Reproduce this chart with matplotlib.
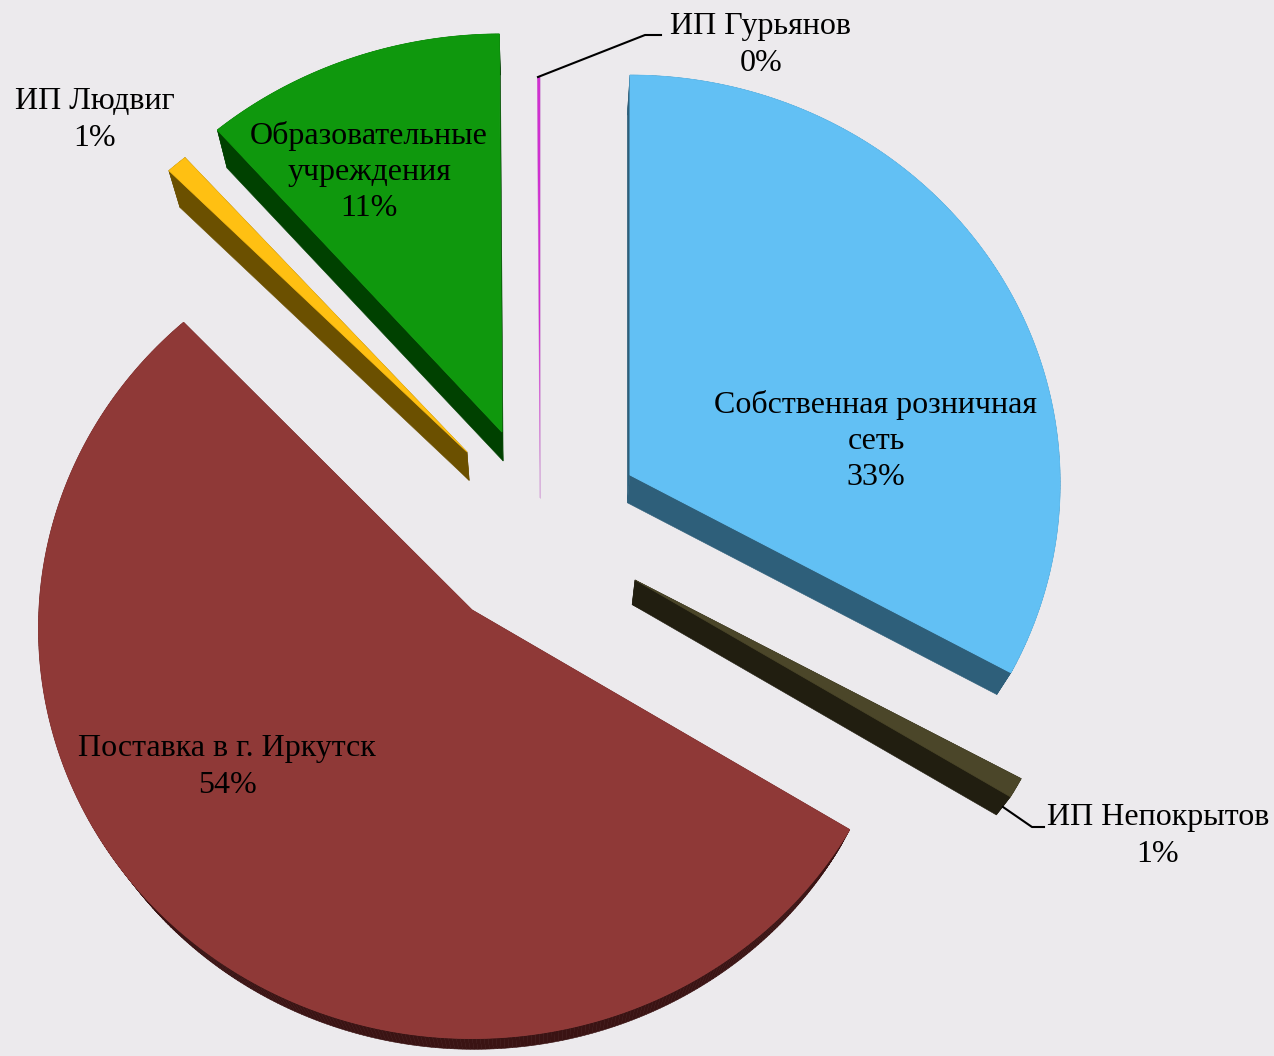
import numpy as np
import matplotlib.pyplot as plt
from matplotlib.patches import Polygon

plt.rcParams['font.family'] = ['Liberation Serif', 'DejaVu Serif']

# shares, clockwise from 12 o'clock
names = ['Собственная розничная\nсеть', 'ИП Непокрытов', 'Поставка в г. Иркутск',
         'ИП Людвиг', 'Образовательные\nучреждения', 'ИП Гурьянов']
values = [33, 0.8, 54.2, 0.8, 11.2, 0.1]
shown = ['33%', '1%', '54%', '1%', '11%', '0%']

top_colors = ['#62C0F4', '#4B4629', '#8F3937', '#FFC012', '#0F980D', '#D030D0']
side_colors = ['#2E5F7A', '#211E10', '#3A1313', '#6B5000', '#004100', '#D9B4DC']
top_edge = [0.7, 0.5, 0.7, 0.5, 0.7, 0]

# exploded position of every slice in pixels, and its radii
centers = [(630, 475), (635, 580), (472, 610), (467, 452), (502, 432), (540, 470)]
radii_x = [430, 436, 433, 433, 437, 430]
radii_y = [408, 410, 410, 388, 398, 393]
persp = [0.02, 0.02, 0.045, 0.0, 0.0, 0.0]

label_pos = [(876, 441), (1158, 836), (227, 767), (95, 120), (369, 172), (761, 45)]

# side walls run towards this point
vanish = np.array([540, 1400])
depth = 0.03

bg = '#ECEAED'

fig = plt.figure(figsize=(12.74, 10.56), dpi=100, facecolor=bg)
ax = fig.add_axes([0, 0, 1, 1])
ax.set_xlim(0, 1274)
ax.set_ylim(1056, 0)
ax.axis('off')


def outline(i, a0, a1):
    t = np.radians(np.linspace(a0, a1, max(int(a1 - a0) * 2, 2)))
    s = np.sin(t)
    c = -np.cos(t)
    x = centers[i][0] + radii_x[i] * s * (1 + persp[i] * c)
    y = centers[i][1] + radii_y[i] * c * (1 + persp[i] * c)
    pts = np.column_stack([x, y])
    return np.vstack([centers[i], pts])


total = sum(values)
start = 0
for i in range(len(values)):
    sweep = values[i] / total * 360
    top = outline(i, start, start + sweep)
    low = top + depth * (vanish - top)
    ring = np.vstack([top, top[:1]])
    ring_low = np.vstack([low, low[:1]])
    for j in range(len(top)):
        quad = [ring[j], ring[j + 1], ring_low[j + 1], ring_low[j]]
        ax.add_patch(Polygon(quad, closed=True, facecolor=side_colors[i],
                             edgecolor=side_colors[i], lw=0.4, zorder=2))
    ax.add_patch(Polygon(top, closed=True, facecolor=top_colors[i],
                         edgecolor=top_colors[i], lw=top_edge[i], zorder=3))
    start += sweep

for i in range(len(names)):
    ax.text(label_pos[i][0], label_pos[i][1], names[i] + '\n' + shown[i], fontsize=23,
            ha='center', va='center', linespacing=1.32, color='black', zorder=5)

# leader lines
ax.plot([538, 645, 661], [77, 35, 35], color='black', lw=1.5, zorder=4)
ax.plot([1003, 1032, 1044], [807, 827, 827], color='black', lw=1.5, zorder=4)

fig.savefig('out.png', dpi=100, facecolor=bg)
